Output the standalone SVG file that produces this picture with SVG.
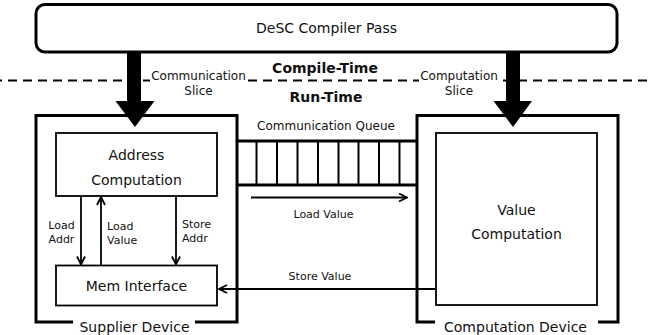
<svg xmlns="http://www.w3.org/2000/svg" width="649" height="335" viewBox="0 0 649 335">
<defs>
<style>
text{font-family:"DejaVu Sans","Verdana",sans-serif;fill:#111;}
.t14{font-size:14px;text-anchor:middle;}
.t12{font-size:12px;text-anchor:middle;}
.t11{font-size:11px;}
.b{font-weight:bold;font-size:14px;text-anchor:middle;}
.outer{fill:none;stroke:#000;stroke-width:3;}
.inner{fill:#fff;stroke:#000;stroke-width:1.8;}
.thin{fill:none;stroke:#000;stroke-width:1.8;}
.cell{stroke:#000;stroke-width:2;}
</style>
<marker id="ah" viewBox="0 0 10 10" refX="9" refY="5" markerWidth="10" markerHeight="10" markerUnits="userSpaceOnUse" orient="auto">
<path d="M1,1 L9,5 L1,9" fill="none" stroke="#000" stroke-width="1.8"/>
</marker>
</defs>
<rect width="649" height="335" fill="#fff"/>

<line x1="0" y1="80.5" x2="649" y2="80.5" stroke="#000" stroke-width="2" stroke-dasharray="9 6" stroke-dashoffset="7"/>
<rect x="150" y="69" width="97" height="14" fill="#fff"/>
<rect x="419" y="69" width="80" height="14" fill="#fff"/>
<text class="t12" x="198.5" y="80">Communication</text>
<text class="t12" x="198.5" y="95">Slice</text>
<text class="t12" x="459" y="80">Computation</text>
<text class="t12" x="459" y="95">Slice</text>
<text class="b" x="325" y="73">Compile-Time</text>
<text class="b" x="326" y="102">Run-Time</text>

<g id="compiler-pass">
<rect x="36" y="4.5" width="581" height="47.5" rx="9" class="outer" fill="#fff"/>
<text class="t14" x="326.5" y="33">DeSC Compiler Pass</text>
</g>

<g id="supplier-device">
<path d="M73,322 H36 V115.5 H237 V322 H195" class="outer"/>
<text class="t14" x="134.5" y="332">Supplier Device</text>
</g>

<g id="computation-device">
<path d="M435,322 H417 V115.5 H618 V322 H598" class="outer"/>
<text class="t14" x="515.5" y="332">Computation Device</text>
</g>

<g id="address-computation">
<rect x="56" y="133" width="161" height="63" class="inner"/>
<text class="t14" x="136.5" y="160">Address</text>
<text class="t14" x="136.5" y="185">Computation</text>
</g>

<g id="mem-interface">
<rect x="56" y="265.5" width="161" height="40" class="inner"/>
<text class="t14" x="136.5" y="291">Mem Interface</text>
</g>

<g id="value-computation">
<rect x="436" y="133" width="161" height="172" class="inner"/>
<text class="t14" x="516.5" y="215">Value</text>
<text class="t14" x="516.5" y="238.5">Computation</text>
</g>

<g id="communication-queue">
<text class="t12" x="326" y="129.5">Communication Queue</text>
<line x1="236" y1="141" x2="417" y2="141" stroke="#000" stroke-width="3"/>
<line x1="236" y1="185" x2="417" y2="185" stroke="#000" stroke-width="3"/>
<g class="cell">
<line x1="256.5" y1="141" x2="256.5" y2="185"/>
<line x1="277" y1="141" x2="277" y2="185"/>
<line x1="297.5" y1="141" x2="297.5" y2="185"/>
<line x1="318" y1="141" x2="318" y2="185"/>
<line x1="338.5" y1="141" x2="338.5" y2="185"/>
<line x1="358.5" y1="141" x2="358.5" y2="185"/>
<line x1="379" y1="141" x2="379" y2="185"/>
<line x1="399.5" y1="141" x2="399.5" y2="185"/>
</g>
</g>

<g id="connectors">
<rect x="127" y="51" width="14" height="51" fill="#000"/>
<polygon points="115.5,101 154.5,101 135,127" fill="#000"/>
<rect x="506" y="51" width="14" height="51" fill="#000"/>
<polygon points="493.5,101 532,101 513,127" fill="#000"/>

<line x1="81" y1="196" x2="81" y2="264.5" class="thin" marker-end="url(#ah)"/>
<line x1="101" y1="265.5" x2="101" y2="197" class="thin" marker-end="url(#ah)"/>
<line x1="176" y1="196" x2="176" y2="264.5" class="thin" marker-end="url(#ah)"/>
<line x1="251" y1="197.5" x2="407" y2="197.5" class="thin" marker-end="url(#ah)"/>
<line x1="436" y1="289" x2="219" y2="289" class="thin" marker-end="url(#ah)"/>

<text class="t11" x="61.5" y="229" text-anchor="middle">Load</text>
<text class="t11" x="61.5" y="243" text-anchor="middle">Addr</text>
<text class="t11" x="107" y="230">Load</text>
<text class="t11" x="107" y="244">Value</text>
<text class="t11" x="182" y="228">Store</text>
<text class="t11" x="182" y="242">Addr</text>
<text class="t11" x="323.5" y="217.5" text-anchor="middle">Load Value</text>
<text class="t11" x="320" y="280" text-anchor="middle">Store Value</text>
</g>
</svg>
